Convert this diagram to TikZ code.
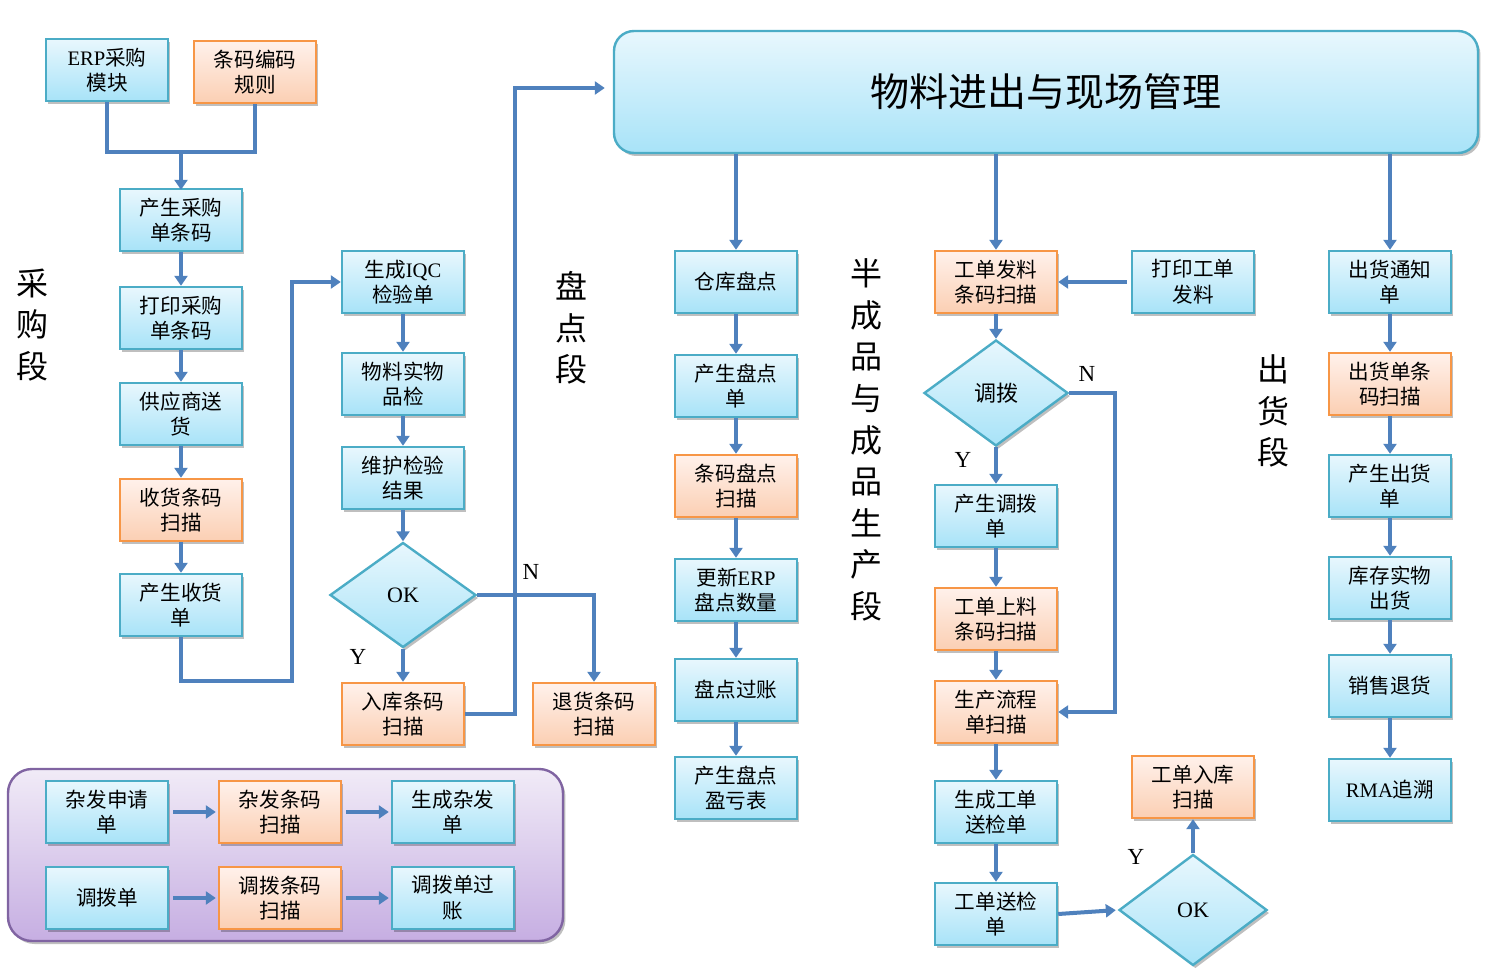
\documentclass[tikz,border=0pt]{standalone}
\usepackage{fontspec}
\setmainfont{Noto Sans CJK SC}
\newfontfamily\lat{Liberation Serif}
\usetikzlibrary{shapes.geometric,shadows,arrows.meta}
\definecolor{bbord}{HTML}{4BACC6}
\definecolor{btop}{HTML}{E8F7FD}
\definecolor{bbot}{HTML}{A8E3F8}
\definecolor{obord}{HTML}{F79646}
\definecolor{otop}{HTML}{FFF1EB}
\definecolor{obot}{HTML}{FBCFB3}
\definecolor{arrc}{HTML}{4F81BD}
\definecolor{pbord}{HTML}{8064A2}
\definecolor{ptop}{HTML}{F1EBF7}
\definecolor{pbot}{HTML}{C6AEE2}
\tikzset{
  shad/.style={drop shadow={shadow xshift=1.2pt,shadow yshift=-1.5pt,fill=black,opacity=0.25}},
  bbox/.style={rectangle, draw=bbord, line width=1.2pt, top color=btop, bottom color=bbot,
    minimum width=61pt, minimum height=31pt, inner sep=0pt, align=center,
    font=\fontsize{10.3}{12.8}\selectfont, shad},
  obox/.style={bbox, draw=obord, top color=otop, bottom color=obot},
  dia/.style={diamond, draw=bbord, line width=1.2pt, top color=btop, bottom color=bbot,
    inner sep=0pt, align=center, font=\fontsize{11}{12}\selectfont, shad},
  vlab/.style={align=center, font=\fontsize{16}{20.8}\selectfont},
  yn/.style={font=\lat\fontsize{11.5}{12}\selectfont},
  line/.style={draw=arrc, line width=2pt},
  arr/.style={line, -{Triangle[width=6.5pt,length=5pt]}},
}
\begin{document}
\begin{tikzpicture}[x=0.5pt,y=-0.5pt]
\useasboundingbox (0,0) rectangle (1510,978);
% group background
\node[draw=pbord, line width=1.2pt, top color=ptop, bottom color=pbot, rounded corners=12pt,
  minimum width=277.5pt, minimum height=86pt, inner sep=0pt, shad] (grp) at (285.5,855) {};
% big title box
\node[draw=bbord, line width=1.2pt, top color=btop, bottom color=bbot, rounded corners=10pt,
  minimum width=432pt, minimum height=61pt, inner sep=0pt, shad,
  font=\fontsize{19.5}{22}\selectfont] (big) at (1046,92) {物料进出与现场管理};
% stage labels
\node[vlab] (l1) at (33,325) {采\\购\\段};
\node[vlab] (l2) at (571,328) {盘\\点\\段};
\node[vlab] (l3) at (866,440) {半\\成\\品\\与\\成\\品\\生\\产\\段};
\node[vlab] (l4) at (1273,411) {出\\货\\段};
% purchase column
\node[bbox] (erp) at (107,70) {{\lat ERP}采购\\模块};
\node[obox] (tmgz) at (255,72) {条码编码\\规则};
\node[bbox] (a1) at (181,220) {产生采购\\单条码};
\node[bbox] (a2) at (181,318) {打印采购\\单条码};
\node[bbox] (a3) at (181,414) {供应商送\\货};
\node[obox] (a4) at (181,510) {收货条码\\扫描};
\node[bbox] (a5) at (181,605) {产生收货\\单};
% IQC column
\node[bbox] (b1) at (403,282) {生成{\lat IQC}\\检验单};
\node[bbox] (b2) at (403,384) {物料实物\\品检};
\node[bbox] (b3) at (403,478) {维护检验\\结果};
\node[dia, minimum width=73pt, minimum height=52.5pt] (ok1) at (403,595) {\lat OK};
\node[obox] (b4) at (403,714) {入库条码\\扫描};
\node[obox] (b5) at (594,714) {退货条码\\扫描};
% inventory column
\node[bbox] (c1) at (736,282) {仓库盘点};
\node[bbox] (c2) at (736,386) {产生盘点\\单};
\node[obox] (c3) at (736,486) {条码盘点\\扫描};
\node[bbox] (c4) at (736,590) {更新{\lat ERP}\\盘点数量};
\node[bbox] (c5) at (736,690) {盘点过账};
\node[bbox] (c6) at (736,788) {产生盘点\\盈亏表};
% production column
\node[obox] (d1) at (996,282) {工单发料\\条码扫描};
\node[bbox] (dp) at (1193,282) {打印工单\\发料};
\node[dia, minimum width=72pt, minimum height=53pt] (dd) at (996,393) {调拨};
\node[bbox] (d2) at (996,516) {产生调拨\\单};
\node[obox] (d3) at (996,619) {工单上料\\条码扫描};
\node[obox] (d4) at (996,712) {生产流程\\单扫描};
\node[bbox] (d5) at (996,812) {生成工单\\送检单};
\node[bbox] (d6) at (996,914) {工单送检\\单};
\node[dia, minimum width=74pt, minimum height=55.5pt] (ok2) at (1193,910) {\lat OK};
\node[obox] (d7) at (1193,787) {工单入库\\扫描};
% shipping column
\node[bbox] (e1) at (1390,282) {出货通知\\单};
\node[obox] (e2) at (1390,384) {出货单条\\码扫描};
\node[bbox] (e3) at (1390,486) {产生出货\\单};
\node[bbox] (e4) at (1390,588) {库存实物\\出货};
\node[bbox] (e5) at (1390,686) {销售退货};
\node[bbox] (e6) at (1390,790) {{\lat RMA}追溯};
% group boxes
\node[bbox] (f1) at (107,812) {杂发申请\\单};
\node[obox] (f2) at (280,812) {杂发条码\\扫描};
\node[bbox] (f3) at (453,812) {生成杂发\\单};
\node[bbox] (g1) at (107,898) {调拨单};
\node[obox] (g2) at (280,898) {调拨条码\\扫描};
\node[bbox] (g3) at (453,898) {调拨单过\\账};
% Y/N labels
\node[yn] (n1) at (531,572) {N};
\node[yn] (y1) at (358,657) {Y};
\node[yn] (n2) at (1087,374) {N};
\node[yn] (y2) at (963,460) {Y};
\node[yn] (y3) at (1136,857) {Y};
% junction coordinates
\coordinate (j1) at (181,152);
\coordinate (k1) at (292,681);
\coordinate (k2) at (515,88);
\coordinate (k3) at (1115,393);
% connectors
\draw[line] (erp.south) |- (j1) -| (tmgz.south);
\draw[arr] (j1) -- ([yshift=-1pt]a1.north);
\draw[arr] (a1) -- (a2);
\draw[arr] (a2) -- (a3);
\draw[arr] (a3) -- (a4);
\draw[arr] (a4) -- (a5);
\draw[arr] (a5.south) |- (k1) |- (b1.west);
\draw[arr] (b1) -- (b2);
\draw[arr] (b2) -- (b3);
\draw[arr] (b3.south) -- (ok1.north);
\draw[arr] (ok1.south) -- (b4.north);
\draw[arr] (ok1.east) -| (b5.north);
\draw[arr, shorten >=4pt] (b4.east) -| (k2) -- (big.west |- k2);
\draw[arr] (big.south -| c1) -- (c1.north);
\draw[arr] (c1) -- (c2);
\draw[arr] (c2) -- (c3);
\draw[arr] (c3) -- (c4);
\draw[arr] (c4) -- (c5);
\draw[arr] (c5) -- (c6);
\draw[arr] (big.south -| d1) -- (d1.north);
\draw[arr, shorten <=2pt] (dp.west) -- (d1.east);
\draw[arr] (d1.south) -- (dd.north);
\draw[arr] (dd.south) -- (d2.north);
\draw[arr] (d2) -- (d3);
\draw[arr] (d3) -- (d4);
\draw[arr] (d4) -- (d5);
\draw[arr] (d5) -- (d6);
\draw[arr] (dd.east) -| (k3) |- (d4.east);
\draw[arr, shorten >=1pt] (d6.east) -- (ok2.west);
\draw[arr] (ok2.north) -- (d7.south);
\draw[arr] (big.south -| e1) -- (e1.north);
\draw[arr] (e1) -- (e2);
\draw[arr] (e2) -- (e3);
\draw[arr] (e3) -- (e4);
\draw[arr] (e4) -- (e5);
\draw[arr] (e5) -- (e6);
\draw[arr, shorten <=2pt, shorten >=1pt] (f1) -- (f2);
\draw[arr, shorten <=2pt, shorten >=1pt] (f2) -- (f3);
\draw[arr, shorten <=2pt, shorten >=1pt] (g1) -- (g2);
\draw[arr, shorten <=2pt, shorten >=1pt] (g2) -- (g3);
\end{tikzpicture}
\end{document}
